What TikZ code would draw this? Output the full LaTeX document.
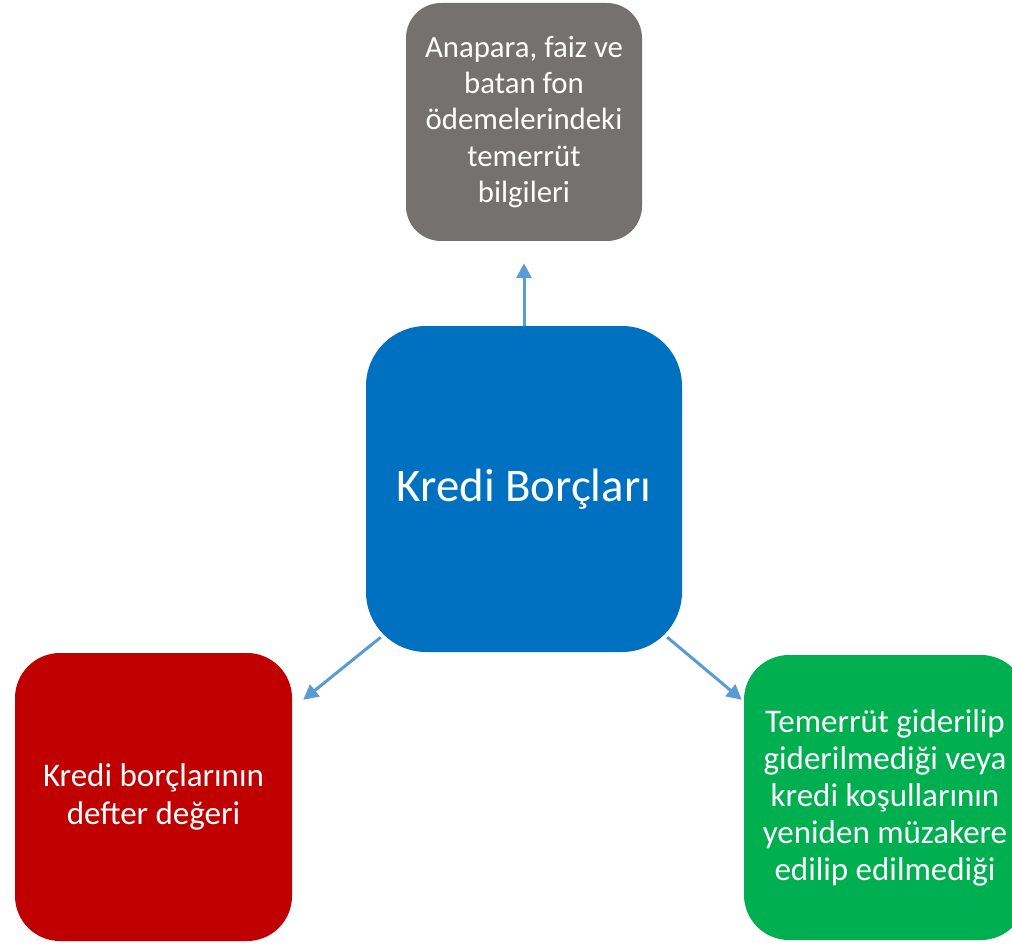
\documentclass[tikz,border=0pt]{standalone}
\usepackage{fontspec}
\setmainfont{Carlito}
\usetikzlibrary{arrows.meta}
\definecolor{boxgray}{HTML}{767171}
\definecolor{boxblue}{HTML}{0070C0}
\definecolor{boxred}{HTML}{C00000}
\definecolor{boxgreen}{HTML}{00B050}
\definecolor{arrowblue}{HTML}{5B9BD5}
\tikzset{
  card/.style={rectangle, inner sep=0pt, text=white, align=center,
    font=\fontsize{33}{37}\selectfont},
  conn/.style={draw=arrowblue, line width=3pt,
    -{Triangle[length=15pt,width=15pt]}}
}
\begin{document}
\begin{tikzpicture}[x=1pt,y=-1pt]
\useasboundingbox (0,0) rectangle (1012,944);
\node[card, fill=boxblue, rounded corners=60pt, minimum width=316pt, minimum height=326pt,
  font=\fontsize{46.8}{55}\selectfont] (blue) at (524,489) {Kredi Borçları};
\node[card, fill=boxgray, rounded corners=35pt, minimum width=236pt, minimum height=238pt,
  font=\fontsize{30.8}{36.2}\selectfont] (gray) at (524,122)
  {Anapara, faiz ve\\batan fon\\ödemelerindeki\\temerrüt\\bilgileri};
\node[card, fill=boxred, rounded corners=45pt, minimum width=277pt, minimum height=288pt,
  font=\fontsize{33}{38}\selectfont] (red) at (153.5,797)
  {Kredi borçlarının\\defter değeri};
\node[card, fill=boxgreen, rounded corners=45pt, minimum width=282pt, minimum height=285pt] (green) at (885,797.5)
  {Temerrüt giderilip\\giderilmediği veya\\kredi koşullarının\\yeniden müzakere\\edilip edilmediği};
\draw[conn, shorten >=22pt] (blue.north) -- (gray.south);
\draw[conn] ([shift={(15,-15)}]blue.south west) -- ([shift={(11,47)}]red.north east);
\draw[conn] ([shift={(-15,-15)}]blue.south east) -- ([shift={(-2,45)}]green.north west);
\end{tikzpicture}
\end{document}
